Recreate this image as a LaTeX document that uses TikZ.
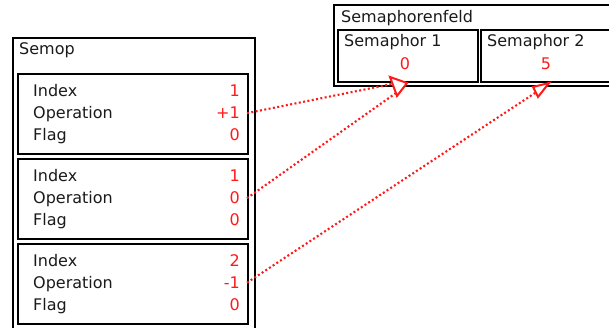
\documentclass[tikz,border=0pt]{standalone}
\usepackage{fontspec}
\setmainfont{DejaVu Sans}
\definecolor{txt}{HTML}{1A1A1A}
\definecolor{val}{HTML}{FF1A1A}

\begin{document}
\begin{tikzpicture}[x=1pt,y=-1pt,
  frame/.style={draw=black, line width=2.4pt, inner sep=0pt, anchor=north west},
  lbl/.style={anchor=base west, inner sep=0pt, text=txt, font=\fontsize{16}{19}\selectfont},
  num/.style={anchor=base east, inner xsep=7pt, inner ysep=0pt, text=val, font=\fontsize{16}{19}\selectfont},
  semnum/.style={anchor=base, inner sep=0pt, text=val, font=\fontsize{16}{19}\selectfont},
  link/.style={draw=val, line width=2.1pt, dash pattern=on 2pt off 2.4pt},
  tipshape/.style={draw=val, fill=white, line width=2pt, line join=miter}
]
\useasboundingbox (0,0) rectangle (609,328);

% Semop structure with its three operations
\node[frame, minimum width=242pt, minimum height=300pt] (semop) at (12,37) {};
\node[lbl] (semoptitle) at (19,55) {Semop};

\node[frame, minimum width=230pt, minimum height=80pt] (opa) at (17,73) {};
\node[frame, minimum width=230pt, minimum height=80pt] (opb) at (17,158) {};
\node[frame, minimum width=230pt, minimum height=80pt] (opc) at (17,243) {};

\node[lbl] (ia) at (33,97) {Index};
\node[lbl] (oa) at (33,119) {Operation};
\node[lbl] (fa) at (33,140.5) {Flag};
\node[num] (via) at (247,97) {1};
\node[num] (voa) at (247,119) {+1};
\node[num] (vfa) at (247,140.5) {0};

\node[lbl] (ib) at (33,182) {Index};
\node[lbl] (ob) at (33,204) {Operation};
\node[lbl] (fb) at (33,225.5) {Flag};
\node[num] (vib) at (247,182) {1};
\node[num] (vob) at (247,204) {0};
\node[num] (vfb) at (247,225.5) {0};

\node[lbl] (ic) at (33,266) {Index};
\node[lbl] (oc) at (33,288.5) {Operation};
\node[lbl] (fc) at (33,310) {Flag};
\node[num] (vic) at (247,266) {2};
\node[num] (voc) at (247,288.5) {-1};
\node[num] (vfc) at (247,310) {0};

% Semaphore set
\node[frame, minimum width=282pt, minimum height=81pt] (feld) at (333,4) {};
\node[lbl] (feldtitle) at (341,23) {Semaphorenfeld};
\node[frame, minimum width=140pt, minimum height=52pt] (sema) at (337,29) {};
\node[frame, minimum width=140pt, minimum height=52pt] (semb) at (480,29) {};
\node[lbl] (semalbl) at (344,46.5) {Semaphor 1};
\node[lbl] (semblbl) at (487,46.5) {Semaphor 2};
\node[semnum] (semaval) at (405,70) {0};
\node[semnum] (sembval) at (546,70) {5};

% link ends and tip positions
\coordinate (enda) at (392,84);
\coordinate (endb) at (396,93);
\coordinate (endc) at (535,93);
\coordinate (tipa) at (397,96);
\coordinate (tipb) at (538,97);

\draw[link] (voa.east) -- (enda);
\draw[link] (vob.east) -- (endb);
\draw[link] (voc.east) -- (endc);

\draw[tipshape] (tipa) -- ++(-7,-19) -- ++(17,6) -- cycle;
\draw[tipshape] (tipb) -- ++(-5,-10) -- ++(16,-4) -- cycle;
\end{tikzpicture}
\end{document}
